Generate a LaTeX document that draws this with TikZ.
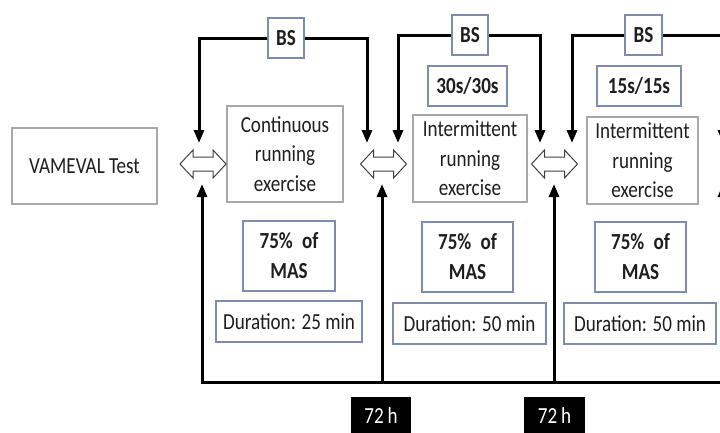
\documentclass[tikz,border=0pt]{standalone}
\usepackage{fontspec}
\setmainfont{Carlito}[FakeStretch=0.83]
\usetikzlibrary{arrows.meta}
\definecolor{greybox}{RGB}{168,168,168}
\definecolor{bluebox}{RGB}{125,140,175}
\definecolor{txt}{RGB}{30,30,30}
\begin{document}
\begin{tikzpicture}[x=1pt,y=-1pt,
  every node/.style={font=\fontsize{23}{29.5}\selectfont, text=txt},
  sz/.style n args={2}{minimum width=#1pt, minimum height=#2pt},
  graybx/.style={draw=greybox, line width=1.1pt, inner sep=0pt, align=center},
  bluebx/.style={draw=bluebox, line width=1.1pt, inner sep=0pt, align=center},
  boldtxt/.style={font=\fontsize{23}{30}\selectfont\bfseries},
  conn/.style={line width=3pt, draw=black},
  arr/.style={conn, -{Triangle[width=10pt,length=13pt]}},
  dbl/.style={draw=black!75, line width=1pt, fill=white, line join=miter},
  hbox/.style={fill=black, text=white, inner sep=0pt}]
\useasboundingbox (0,0) rectangle (720,432);
\clip (0,0) rectangle (720,432);
\fill[white] (0,0) rectangle (720,432);

% main boxes
\node[graybx, sz={145}{76}] (vam) at (84.5,166) {VAMEVAL Test};
\node[graybx, sz={116}{96}] (ex1) at (285,154) {Continuous\\running\\exercise};
\node[graybx, sz={114}{87}] (ex2) at (470,158.5) {Intermittent\\running\\exercise};
\node[graybx, sz={111}{87}] (ex3) at (642.5,160.5) {Intermittent\\running\\exercise};

% BS boxes
\node[bluebx, boldtxt, sz={36}{40}] (bs1) at (286,38) {BS};
\node[bluebx, boldtxt, sz={36}{40}] (bs2) at (470,35) {BS};
\node[bluebx, boldtxt, sz={37}{40}] (bs3) at (643.5,35) {BS};

% interval boxes
\node[bluebx, boldtxt, sz={79}{40}] (r1) at (467.5,86) {30s/30s};
\node[bluebx, boldtxt, sz={84}{40}] (r2) at (639,86) {15s/15s};

% intensity boxes
\node[bluebx, boldtxt, sz={92}{70}] (m1) at (289,256) {75\%\hspace{0.4em}of\\MAS};
\node[bluebx, boldtxt, sz={91}{70}] (m2) at (467.5,257) {75\%\hspace{0.4em}of\\MAS};
\node[bluebx, boldtxt, sz={91}{70}] (m3) at (640.5,257) {75\%\hspace{0.4em}of\\MAS};

% duration boxes
\node[bluebx, sz={146}{41}] (d1) at (289,321.5) {Duration: 25 min};
\node[bluebx, sz={153}{41}] (d2) at (469.5,323.5) {Duration: 50 min};
\node[bluebx, sz={152}{41}] (d3) at (640,323.5) {Duration: 50 min};

% 72 h boxes
\node[hbox, sz={60}{38}] (h1) at (381,416) {72\,h};
\node[hbox, sz={61}{38}] (h2) at (554.5,416) {72\,h};

% double arrows
\foreach \cx in {203,383.5,554.5}{
  \draw[dbl] (\cx-23,164) -- (\cx-10,150) -- (\cx-10,157) -- (\cx+10,157)
    -- (\cx+10,150) -- (\cx+23,164) -- (\cx+10,178) -- (\cx+10,171)
    -- (\cx-10,171) -- (\cx-10,178) -- cycle;
}

% arrow end points
\coordinate (t1) at (199,143);
\coordinate (t2) at (367,143);
\coordinate (t3) at (398,143);
\coordinate (t4) at (540,143);
\coordinate (t5) at (572,143);
\coordinate (t6) at (723,143);
\coordinate (u1) at (202,184);
\coordinate (u2) at (382,184);
\coordinate (u3) at (554,184);
\coordinate (u4) at (723,184);
\coordinate (b2) at (382,383);
\coordinate (b3) at (554,383);
\coordinate (b4) at (723,383);
\coordinate (bR) at (740,382);

% top connectors through BS boxes
\draw[arr] (bs1.west) -| (t1);
\draw[arr] (bs1.east) -| (t2);
\draw[arr] (bs2.west) -| (t3);
\draw[arr] (bs2.east) -| (t4);
\draw[arr] (bs3.west) -| (t5);
\draw[arr] (bs3.east) -| (t6);

% bottom connectors
\draw[arr] (bR) -| (u1);
\draw[arr] (b2) -- (u2);
\draw[arr] (b3) -- (u3);
\draw[arr] (b4) -- (u4);
\end{tikzpicture}
\end{document}
